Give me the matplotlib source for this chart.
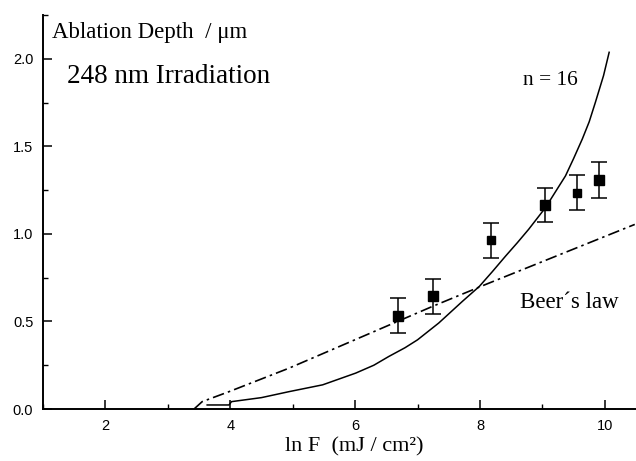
import numpy as np
import matplotlib.pyplot as plt
from matplotlib.ticker import MultipleLocator

# measured ablation depths (um) vs ln of fluence
ln_f = [6.68, 7.24, 8.17, 9.05, 9.56, 9.91]
depth = [0.533, 0.644, 0.963, 1.165, 1.236, 1.308]
depth_err = [0.10, 0.10, 0.10, 0.097, 0.102, 0.102]
marker_px = [10, 9, 7, 9, 7, 9]

# model curve, n = 16
n16_x = [3.63, 3.98, 4.02, 4.5, 4.94, 5.48, 6.01, 6.3, 6.54, 6.8, 7.0, 7.34,
         7.72, 7.99, 8.2, 8.41, 8.6, 8.78, 9.05, 9.2, 9.37, 9.5, 9.64, 9.75,
         9.85, 9.98, 10.07]
n16_y = [0.023, 0.023, 0.042, 0.065, 0.099, 0.138, 0.205, 0.25, 0.30, 0.35,
         0.395, 0.491, 0.615, 0.70, 0.785, 0.873, 0.95, 1.026, 1.15, 1.235,
         1.331, 1.43, 1.542, 1.64, 1.752, 1.904, 2.037]

# Beer's law curve
beer_x = [3.42, 3.55, 3.98, 4.94, 6.68, 7.24, 8.09, 10.48]
beer_y = [0.0, 0.042, 0.099, 0.233, 0.50, 0.586, 0.711, 1.054]

plt.rcParams['font.family'] = ['Liberation Serif', 'DejaVu Serif']

fig = plt.figure(figsize=(6.36, 4.61), dpi=100)
ax = fig.add_axes([43 / 636, 52 / 461, 593 / 636, 394 / 461])

ax.plot(n16_x, n16_y, color='black', lw=1.1)
ax.plot(beer_x, beer_y, color='black', lw=1.2,
        linestyle=(0, (7, 2.5, 1.5, 2.5)))

for x, y, e, m in zip(ln_f, depth, depth_err, marker_px):
    ax.errorbar(x, y, yerr=e, fmt='s', color='black', ms=m * 0.75,
                elinewidth=1.1, capsize=6, capthick=1.1)

ax.set_xlim(1, 10.5)
ax.set_ylim(0, 2.25)
ax.spines['top'].set_visible(False)
ax.spines['right'].set_visible(False)
for s in ('left', 'bottom'):
    ax.spines[s].set_linewidth(1.4)

ax.xaxis.set_major_locator(MultipleLocator(2))
ax.xaxis.set_minor_locator(MultipleLocator(1))
ax.yaxis.set_major_locator(MultipleLocator(0.5))
ax.yaxis.set_minor_locator(MultipleLocator(0.25))
ax.yaxis.set_major_formatter(plt.FormatStrFormatter('%.1f'))
ax.tick_params(which='major', direction='in', length=6.5, width=1.1,
               labelsize=10.5, pad=7)
ax.tick_params(which='minor', direction='in', length=3.6, width=1.0)
for lab in ax.get_xticklabels() + ax.get_yticklabels():
    lab.set_family('Liberation Sans')

fig.text(52 / 636, 1 - 38 / 461, 'Ablation Depth  / \u03bcm', fontsize=16.5)
fig.text(67 / 636, 1 - 83 / 461, '248 nm Irradiation', fontsize=19.5)
fig.text(523 / 636, 1 - 85 / 461, 'n = 16', fontsize=15.5)
fig.text(520 / 636, 1 - 308 / 461, 'Beer\u00b4s law', fontsize=16.5)
fig.text(354 / 636, 1 - 451 / 461, 'ln F  (mJ / cm\u00b2)', fontsize=16,
         ha='center')

fig.savefig('out.png', dpi=100)
